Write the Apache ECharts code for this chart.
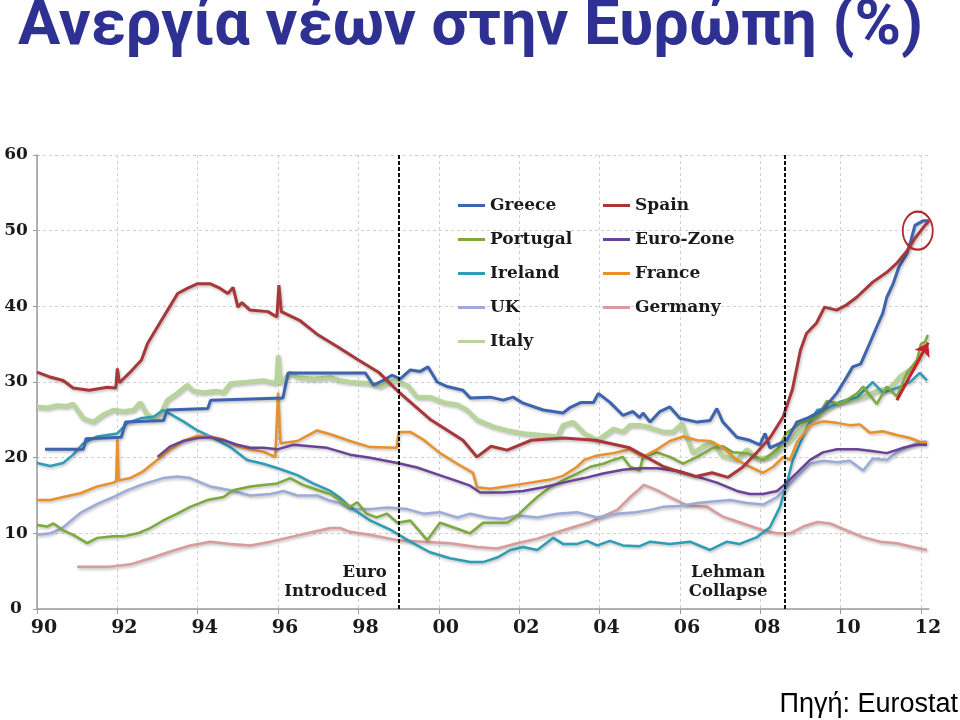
<!DOCTYPE html>
<html lang="el">
<head>
<meta charset="UTF-8">
<title>Ανεργία νέων στην Ευρώπη</title>
<script src="https://cdn.jsdelivr.net/npm/echarts@6.0.0/dist/echarts.min.js"></script>
<style>
  html, body { margin: 0; padding: 0; background: #fff; }
  #chart { width: 960px; height: 720px; }
</style>
</head>
<body>
<div id="chart"></div>
<script>
// ticks
var yearLabels = ['90', '92', '94', '96', '98', '00', '02', '04', '06', '08', '10', '12'];
var yTicks = [0, 10, 20, 30, 40, 50, 60];

// [year, %]
var greece = [[1990.2, 21.1], [1991.15, 21.1], [1991.22, 22.5], [1992.1, 22.7], [1992.2, 24.7], [1993.15, 24.9], [1993.24, 26.3],
  [1994.25, 26.5], [1994.32, 27.6], [1996.12, 27.9], [1996.25, 31.2], [1998.17, 31.2], [1998.37, 29.6], [1998.62, 30.2],
  [1998.83, 30.9], [1999.04, 30.4], [1999.29, 31.6], [1999.54, 31.4], [1999.73, 32.0], [1999.96, 30.0], [2000.21, 29.4],
  [2000.6, 28.9], [2000.78, 27.9], [2001.28, 28.0], [2001.6, 27.6], [2001.85, 28.0], [2002.1, 27.2], [2002.6, 26.3],
  [2003.09, 25.9], [2003.26, 26.6], [2003.54, 27.3], [2003.85, 27.3], [2003.97, 28.5], [2004.26, 27.3], [2004.58, 25.6],
  [2004.83, 26.1], [2005.0, 25.3], [2005.08, 25.9], [2005.26, 24.7], [2005.5, 26.1], [2005.75, 26.7], [2006.0, 25.2],
  [2006.43, 24.7], [2006.75, 24.9], [2006.92, 26.5], [2007.07, 24.7], [2007.42, 22.7], [2007.74, 22.3], [2007.99, 21.7],
  [2008.12, 23.2], [2008.24, 21.3], [2008.49, 21.9], [2008.66, 22.3], [2008.91, 24.7], [2009.2, 25.3], [2009.55, 26.3],
  [2009.9, 28.5], [2010.1, 30.2], [2010.3, 32.0], [2010.5, 32.4], [2010.65, 34.2], [2010.9, 37.3], [2011.05, 39.1],
  [2011.15, 41.2], [2011.3, 42.9], [2011.45, 45.2], [2011.65, 47.0], [2011.75, 48.7], [2011.85, 50.7], [2012.05, 51.3],
  [2012.2, 51.3]];

var spain = [[1990.0, 31.3], [1990.3, 30.7], [1990.65, 30.2], [1990.9, 29.2], [1991.3, 28.9], [1991.75, 29.3],
  [1991.96, 29.2], [1992.0, 31.8], [1992.05, 29.9], [1992.3, 31.2], [1992.6, 32.9], [1992.75, 35.1], [1993.0, 37.3],
  [1993.25, 39.5], [1993.5, 41.7], [1993.75, 42.4], [1994.0, 43.0], [1994.3, 43.0], [1994.55, 42.4], [1994.75, 41.7],
  [1994.88, 42.5], [1995.0, 39.9], [1995.1, 40.5], [1995.3, 39.5], [1995.75, 39.3], [1995.97, 38.6], [1996.02, 42.8],
  [1996.08, 39.3], [1996.55, 38.1], [1997.0, 36.2], [1997.5, 34.6], [1998.0, 32.9], [1998.5, 31.3], [1999.0, 28.7],
  [1999.8, 25.0], [2000.6, 22.3], [2000.95, 20.1], [2001.3, 21.5], [2001.7, 21.0], [2002.3, 22.3], [2003.1, 22.6],
  [2003.9, 22.3], [2004.75, 21.3], [2005.6, 18.8], [2006.0, 18.1], [2006.4, 17.5], [2006.8, 18.0], [2007.2, 17.4],
  [2007.55, 18.7], [2007.9, 20.6], [2008.25, 22.7], [2008.57, 25.4], [2008.8, 29.0], [2009.0, 34.2], [2009.15, 36.4],
  [2009.4, 37.8], [2009.6, 39.9], [2009.9, 39.5], [2010.15, 40.2], [2010.4, 41.2], [2010.8, 43.2], [2011.15, 44.5],
  [2011.4, 45.7], [2011.66, 47.4], [2011.85, 49.0], [2012.07, 50.5], [2012.2, 51.3]];

var portugal = [[1990.0, 11.1], [1990.25, 10.9], [1990.41, 11.3], [1990.65, 10.4], [1990.9, 9.8], [1991.25, 8.7],
  [1991.5, 9.4], [1991.9, 9.6], [1992.15, 9.6], [1992.5, 10.0], [1992.82, 10.7], [1993.14, 11.7], [1993.49, 12.6],
  [1993.81, 13.5], [1994.24, 14.4], [1994.64, 14.8], [1994.88, 15.7], [1995.31, 16.2], [1995.63, 16.4], [1995.98, 16.6],
  [1996.3, 17.3], [1996.62, 16.4], [1997.0, 15.7], [1997.3, 15.2], [1997.79, 13.5], [1997.97, 14.1], [1998.2, 12.6],
  [1998.45, 12.1], [1998.71, 12.6], [1998.97, 11.4], [1999.29, 11.7], [1999.71, 9.1], [2000.03, 11.4], [2000.46, 10.6],
  [2000.78, 10.0], [2001.1, 11.4], [2001.45, 11.4], [2001.7, 11.4], [2001.95, 12.3], [2002.2, 13.6], [2002.45, 14.8],
  [2002.77, 16.1], [2003.09, 17.0], [2003.44, 17.9], [2003.77, 18.8], [2004.09, 19.2], [2004.34, 19.7], [2004.58, 20.1],
  [2004.76, 18.8], [2005.0, 18.3], [2005.08, 20.1], [2005.43, 20.7], [2005.75, 20.1], [2006.08, 19.2], [2006.43, 20.1],
  [2006.82, 21.3], [2007.07, 21.5], [2007.32, 20.7], [2007.67, 20.6], [2008.07, 19.7], [2008.42, 21.1], [2008.66, 23.3],
  [2008.99, 24.5], [2009.42, 25.4], [2009.66, 27.5], [2009.98, 27.1], [2010.41, 28.5], [2010.56, 29.4], [2010.9, 27.1],
  [2011.15, 29.4], [2011.4, 28.1], [2011.65, 31.2], [2011.9, 32.9], [2012.0, 35.0], [2012.1, 35.3], [2012.17, 36.2]];

var euroZone = [[1993.0, 20.1], [1993.32, 21.5], [1993.64, 22.2], [1993.99, 22.6], [1994.31, 22.7], [1994.64, 22.3],
  [1994.98, 21.7], [1995.31, 21.3], [1995.63, 21.3], [1995.98, 21.1], [1996.38, 21.7], [1996.8, 21.5], [1997.22, 21.3],
  [1997.54, 20.8], [1997.79, 20.4], [1998.29, 20.0], [1998.97, 19.3], [1999.46, 18.7], [1999.96, 17.8], [2000.46, 16.9],
  [2000.78, 16.3], [2001.03, 15.4], [2001.6, 15.4], [2002.1, 15.6], [2002.6, 16.1], [2003.09, 16.7], [2003.62, 17.3],
  [2004.09, 17.9], [2004.58, 18.4], [2005.0, 18.6], [2005.43, 18.6], [2006.0, 18.2], [2006.43, 17.5], [2006.92, 16.7],
  [2007.42, 15.6], [2007.74, 15.2], [2008.07, 15.2], [2008.42, 15.6], [2008.66, 16.7], [2008.91, 18.0], [2009.24, 19.7],
  [2009.56, 20.7], [2009.91, 21.1], [2010.41, 21.1], [2010.73, 20.9], [2011.15, 20.6], [2011.55, 21.3], [2011.9, 21.7],
  [2012.15, 21.7]];

var ireland = [[1990.0, 19.3], [1990.33, 18.9], [1990.65, 19.3], [1990.9, 20.4], [1991.15, 21.9], [1991.5, 22.8],
  [1992.0, 23.2], [1992.25, 24.6], [1992.57, 25.2], [1992.9, 25.4], [1993.14, 26.3], [1993.64, 24.8], [1993.99, 23.6],
  [1994.39, 22.6], [1994.81, 21.4], [1995.23, 19.7], [1995.63, 19.2], [1996.05, 18.5], [1996.48, 17.7], [1996.87, 16.6],
  [1997.3, 15.6], [1997.54, 14.7], [1997.79, 13.5], [1998.29, 11.7], [1998.79, 10.5], [1999.29, 8.9], [1999.78, 7.5],
  [2000.28, 6.7], [2000.78, 6.2], [2001.1, 6.2], [2001.45, 6.8], [2001.78, 7.8], [2002.1, 8.2], [2002.45, 7.8],
  [2002.85, 9.4], [2003.09, 8.6], [2003.44, 8.6], [2003.69, 9.0], [2003.94, 8.4], [2004.26, 9.0], [2004.58, 8.4],
  [2005.0, 8.3], [2005.26, 8.9], [2005.75, 8.6], [2006.25, 8.9], [2006.75, 7.8], [2007.17, 8.9], [2007.49, 8.6],
  [2007.92, 9.5], [2008.24, 10.8], [2008.49, 13.5], [2008.66, 16.6], [2008.81, 19.7], [2008.99, 21.9], [2009.17, 24.1],
  [2009.42, 26.3], [2009.74, 26.7], [2010.06, 27.5], [2010.41, 28.0], [2010.8, 30.0], [2011.05, 28.6], [2011.4, 29.2],
  [2011.73, 30.0], [2011.97, 31.2], [2012.15, 30.2]];

var france = [[1990.0, 14.4], [1990.33, 14.4], [1990.65, 14.8], [1991.08, 15.3], [1991.5, 16.2], [1991.9, 16.7],
  [1991.97, 16.9], [1992.0, 22.4], [1992.03, 17.0], [1992.32, 17.3], [1992.64, 18.2], [1992.99, 19.7], [1993.32, 21.1],
  [1993.64, 22.2], [1993.99, 22.9], [1994.31, 22.8], [1994.64, 22.4], [1994.98, 21.5], [1995.31, 21.1], [1995.63, 20.8],
  [1995.93, 20.1], [1996.0, 28.6], [1996.06, 21.9], [1996.48, 22.2], [1996.97, 23.6], [1997.3, 23.1], [1997.79, 22.2],
  [1998.29, 21.4], [1998.95, 21.3], [1999.0, 23.4], [1999.29, 23.4], [1999.61, 22.4], [2000.03, 20.6], [2000.46, 19.2],
  [2000.85, 18.0], [2000.95, 16.1], [2001.28, 15.9], [2001.78, 16.3], [2002.28, 16.7], [2002.77, 17.1], [2003.09, 17.6],
  [2003.44, 18.8], [2003.62, 19.7], [2003.94, 20.3], [2004.34, 20.6], [2004.76, 21.1], [2005.08, 20.1], [2005.43, 21.1],
  [2005.75, 22.2], [2006.08, 22.8], [2006.43, 22.3], [2006.75, 22.2], [2007.07, 21.3], [2007.42, 19.7], [2007.74, 18.8],
  [2008.07, 18.0], [2008.32, 18.8], [2008.57, 20.1], [2008.74, 19.7], [2008.91, 22.0], [2009.24, 24.3], [2009.56, 24.8],
  [2009.91, 24.6], [2010.23, 24.3], [2010.48, 24.4], [2010.73, 23.3], [2011.05, 23.5], [2011.4, 23.0], [2011.73, 22.6],
  [2011.97, 22.1], [2012.15, 22.0]];

var uk = [[1990.0, 9.8], [1990.33, 10.0], [1990.65, 10.8], [1991.08, 12.7], [1991.5, 13.9], [1991.9, 14.8],
  [1992.25, 15.7], [1992.64, 16.5], [1993.14, 17.3], [1993.49, 17.5], [1993.81, 17.3], [1994.31, 16.2], [1994.81, 15.7],
  [1995.31, 15.0], [1995.81, 15.2], [1996.13, 15.6], [1996.48, 15.0], [1996.97, 15.0], [1997.3, 14.3], [1997.54, 14.0],
  [1997.79, 13.2], [1998.29, 13.2], [1998.71, 13.4], [1999.21, 13.2], [1999.61, 12.6], [2000.03, 12.8], [2000.46, 12.1],
  [2000.78, 12.6], [2001.2, 12.1], [2001.6, 11.9], [2001.95, 12.4], [2002.45, 12.1], [2002.95, 12.6], [2003.44, 12.8],
  [2003.94, 12.1], [2004.44, 12.6], [2004.9, 12.8], [2005.26, 13.1], [2005.58, 13.5], [2006.0, 13.6], [2006.43, 14.0],
  [2006.82, 14.2], [2007.25, 14.4], [2007.67, 14.0], [2008.07, 13.8], [2008.42, 14.8], [2008.66, 16.1], [2008.91, 17.5],
  [2009.24, 19.2], [2009.56, 19.6], [2009.91, 19.4], [2010.23, 19.6], [2010.56, 18.3], [2010.8, 19.9], [2011.15, 19.7],
  [2011.4, 20.7], [2011.73, 21.6], [2012.05, 22.1], [2012.15, 22.1]];

var germany = [[1991.0, 5.6], [1991.82, 5.6], [1992.32, 5.9], [1992.82, 6.7], [1993.32, 7.6], [1993.81, 8.4],
  [1994.31, 8.9], [1994.81, 8.6], [1995.31, 8.4], [1995.81, 8.9], [1996.3, 9.5], [1996.8, 10.1], [1997.3, 10.7],
  [1997.54, 10.7], [1997.79, 10.2], [1998.29, 9.8], [1998.97, 9.1], [1999.61, 8.9], [2000.28, 8.7], [2000.95, 8.2],
  [2001.45, 8.0], [2001.95, 8.7], [2002.45, 9.3], [2003.09, 10.4], [2003.77, 11.5], [2004.44, 13.1], [2004.76, 14.8],
  [2005.0, 15.9], [2005.1, 16.4], [2005.43, 15.7], [2005.75, 14.8], [2006.18, 13.7], [2006.68, 13.5], [2007.07, 12.2],
  [2007.57, 11.3], [2008.07, 10.4], [2008.42, 10.0], [2008.74, 10.0], [2009.07, 10.9], [2009.42, 11.5], [2009.74, 11.3],
  [2010.15, 10.4], [2010.56, 9.5], [2010.98, 8.9], [2011.4, 8.7], [2011.8, 8.2], [2012.15, 7.8]];

var italy = [[1990.0, 26.7], [1990.25, 26.6], [1990.5, 26.9], [1990.75, 26.8], [1990.9, 27.1], [1991.15, 25.2],
  [1991.4, 24.7], [1991.65, 25.7], [1991.9, 26.3], [1992.15, 26.1], [1992.4, 26.3], [1992.57, 27.3], [1992.74, 25.7],
  [1992.9, 25.2], [1993.07, 25.7], [1993.24, 27.6], [1993.49, 28.5], [1993.74, 29.6], [1993.89, 28.8], [1994.14, 28.6],
  [1994.49, 28.8], [1994.64, 28.6], [1994.81, 29.8], [1995.23, 30.0], [1995.63, 30.2], [1995.96, 29.8], [1996.0, 33.5],
  [1996.05, 29.8], [1996.3, 31.2], [1996.48, 30.6], [1996.87, 30.4], [1997.3, 30.6], [1997.54, 30.2], [1997.79, 30.0],
  [1998.29, 29.8], [1998.54, 29.4], [1998.86, 30.2], [1999.21, 29.6], [1999.46, 28.0], [1999.78, 28.0], [2000.11, 27.3],
  [2000.46, 27.0], [2000.7, 26.3], [2000.95, 25.0], [2001.35, 24.1], [2001.7, 23.6], [2002.1, 23.2], [2002.52, 23.0],
  [2002.95, 22.8], [2003.09, 24.3], [2003.34, 24.7], [2003.62, 23.2], [2003.94, 22.3], [2004.19, 23.2], [2004.34, 23.8],
  [2004.58, 23.4], [2004.76, 24.3], [2005.0, 24.3], [2005.18, 24.1], [2005.58, 23.4], [2005.83, 23.4], [2006.05, 24.5],
  [2006.18, 22.6], [2006.33, 20.6], [2006.58, 21.5], [2006.82, 22.0], [2007.07, 20.2], [2007.42, 19.7], [2007.67, 21.1],
  [2007.92, 19.8], [2008.24, 20.1], [2008.49, 21.1], [2008.74, 22.3], [2009.07, 24.1], [2009.42, 25.4], [2009.74, 26.7],
  [2009.98, 27.3], [2010.23, 27.5], [2010.56, 28.0], [2010.9, 28.8], [2011.23, 29.2], [2011.48, 30.7], [2011.8, 31.9],
  [2012.0, 33.5], [2012.17, 34.5]];

var chart = echarts.init(document.getElementById('chart'));

var serif = '"DejaVu Serif", Georgia, serif';
var shadow = { shadowColor: 'rgba(0,0,0,0.28)', shadowBlur: 3, shadowOffsetX: 1, shadowOffsetY: 1.5 };
var legendText = { fontFamily: serif, fontWeight: 'bold', fontSize: 17, color: '#1a1a1a', lineHeight: 17 };

function line(name, data, color, width, extra) {
  var s = {
    name: name,
    type: 'line',
    data: data,
    showSymbol: false,
    symbol: 'none',
    silent: true,
    itemStyle: { color: color },
    lineStyle: Object.assign({ color: color, width: width }, shadow)
  };
  return Object.assign(s, extra || {});
}

var option = {
  animation: false,
  backgroundColor: '#fff',
  title: {
    text: 'Ανεργία νέων στην Ευρώπη (%)',
    left: 18,
    top: -3,
    padding: 0,
    textStyle: { fontFamily: 'Roboto, "Noto Sans", sans-serif', fontWeight: 'bold', fontSize: 63, color: '#2e3192' }
  },
  graphic: [{
    type: 'text',
    right: 2,
    bottom: 2,
    style: { text: 'Πηγή: Eurostat', font: '27px "Liberation Sans", Arial, sans-serif', fill: '#000' }
  }],
  legend: [{
    data: ['Greece', 'Portugal', 'Ireland', 'UK', 'Italy'],
    orient: 'vertical',
    left: 458,
    top: 197,
    padding: 0,
    itemWidth: 27,
    itemHeight: 3,
    itemGap: 17,
    icon: 'rect',
    selectedMode: false,
    textStyle: legendText
  }, {
    data: ['Spain', 'Euro-Zone', 'France', 'Germany'],
    orient: 'vertical',
    left: 603,
    top: 197,
    padding: 0,
    itemWidth: 27,
    itemHeight: 3,
    itemGap: 17,
    icon: 'rect',
    selectedMode: false,
    textStyle: legendText
  }],
  grid: { left: 37, right: 31, top: 155, bottom: 111 },
  xAxis: {
    type: 'value',
    min: 1990,
    max: 2012.2,
    interval: 2,
    axisLine: { lineStyle: { color: '#9a9a9a', width: 1.5 } },
    axisTick: { length: 5, lineStyle: { color: '#9a9a9a' } },
    splitLine: { show: true, showMaxLine: false, lineStyle: { color: '#cfcfcf', type: [3, 3] } },
    axisLabel: {
      margin: 10,
      padding: [0, 0, 0, 14],
      showMaxLabel: false,
      fontFamily: serif, fontWeight: 'bold', fontSize: 19, color: '#1a1a1a',
      formatter: function (v) {
        var i = Math.round((v - 1990) / 2);
        return Math.abs(v - 1990 - i * 2) < 1e-6 ? yearLabels[i] : '';
      }
    }
  },
  yAxis: {
    type: 'value',
    min: yTicks[0],
    max: yTicks[yTicks.length - 1],
    interval: 10,
    axisLine: { show: true, lineStyle: { color: '#9a9a9a', width: 1.5 } },
    axisTick: { show: true, length: 4, lineStyle: { color: '#9a9a9a' } },
    splitLine: { lineStyle: { color: '#cfcfcf', type: [3, 3] } },
    axisLabel: { margin: 21, align: 'center', fontFamily: serif, fontWeight: 'bold', fontSize: 17, color: '#1a1a1a' }
  },
  series: [
    line('Italy', italy, '#b9d39c', 4.5, {
      markLine: {
        silent: true,
        symbol: ['none', 'arrow'],
        symbolSize: 13,
        label: { show: false },
        lineStyle: { color: '#c8202a', width: 3, type: 'solid' },
        data: [[{ coord: [2011.4, 27.6] }, { coord: [2012.18, 35.2] }]]
      }
    }),
    line('Germany', germany, '#d99b9b', 2.5),
    line('UK', uk, '#9dabda', 2.5),
    line('Ireland', ireland, '#2f9cb6', 2.5),
    line('Portugal', portugal, '#7caa3c', 2.5),
    line('France', france, '#e8912a', 2.5),
    line('Euro-Zone', euroZone, '#6a4298', 2.5),
    line('Greece', greece, '#3d64ae', 3, {
      markPoint: {
        silent: true,
        symbol: 'circle',
        symbolSize: [30, 38],
        label: { show: false },
        itemStyle: { color: 'rgba(0,0,0,0)', borderColor: '#b0282e', borderWidth: 2 },
        data: [{ coord: [2011.92, 50.0] }]
      }
    }),
    line('Spain', spain, '#a8373a', 3, {
      markLine: {
        silent: true,
        symbol: 'none',
        label: { show: false },
        lineStyle: { color: '#111', width: 2, type: [4, 2] },
        data: [{ xAxis: 1999.0 }, { xAxis: 2008.6 }]
      },
      markPoint: {
        silent: true,
        symbol: 'circle',
        symbolSize: 1,
        itemStyle: { color: 'rgba(0,0,0,0)' },
        label: {
          show: true, distance: 0, lineHeight: 19,
          fontFamily: serif, fontWeight: 'bold', fontSize: 16.5, color: '#1a1a1a'
        },
        data: [
          { coord: [1998.72, 3.5], label: { position: 'left', formatter: 'Euro\nIntroduced' } },
          { coord: [2007.2, 3.5], label: { position: 'inside', formatter: 'Lehman\nCollapse' } }
        ]
      }
    })
  ]
};

chart.setOption(option);
</script>
</body>
</html>
